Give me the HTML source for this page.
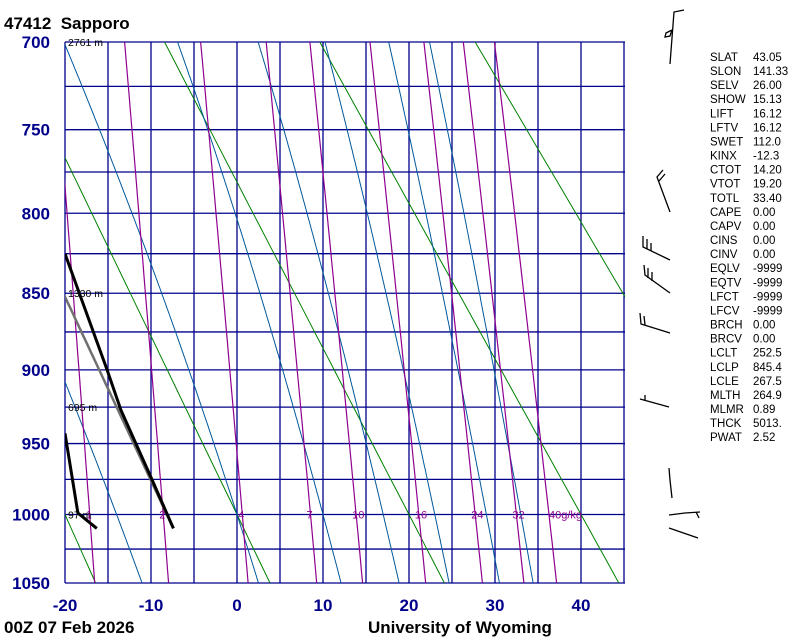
<!DOCTYPE html>
<html><head><meta charset="utf-8">
<style>
html,body{margin:0;padding:0;background:#fff;}
svg{display:block;font-family:"Liberation Sans",sans-serif;}
.lbl{font-size:17px;font-weight:bold;fill:#00008b;}
.blk{font-size:17px;font-weight:bold;fill:#000;}
.st{font-size:11.5px;fill:#000;}
.hg{font-size:10.5px;fill:#000;}
.mr{font-size:11px;fill:#900090;}
</style></head>
<body>
<svg id="chart" width="800" height="640" viewBox="0 0 800 640">
<defs><clipPath id="plotclip"><rect x="65" y="42" width="560" height="541"/></clipPath></defs>
<text class="blk" x="4" y="29">47412&#160;&#160;Sapporo</text>
<g id="grid"></g>
<g id="lines" clip-path="url(#plotclip)"></g>
<g id="axes"></g>
<g id="barbs" stroke="#000" stroke-width="1.3" fill="none">
<polyline points="670,64 674,12 684,10"/>
<polyline points="672,30 666,33 665,37 670,36 672,30"/>
<polyline points="670,212 657,177 663,170"/>
<line x1="659" y1="181" x2="665" y2="174"/>
<polyline points="670,260 643,247 643,236"/>
<line x1="647" y1="249" x2="647" y2="239"/>
<line x1="651" y1="251" x2="651" y2="243"/>
<polyline points="670,293 645,275 644,265"/>
<line x1="648" y1="278" x2="648" y2="268"/>
<line x1="652" y1="281" x2="652" y2="272"/>
<polyline points="670,333 641,324 640,313"/>
<line x1="645" y1="325" x2="644" y2="316"/>
<polyline points="669,407 640,399"/>
<line x1="645" y1="400" x2="645" y2="395"/>
<polyline points="669,468 670,480 672,498"/>
<polyline points="669,515 685,513 700,512"/>
<line x1="696" y1="512" x2="699" y2="518"/>
<polyline points="669,528 698,538"/>
</g>
<g id="stats"></g>
<text class="blk" x="4" y="633">00Z 07 Feb 2026</text>
<text class="blk" x="368" y="633">University of Wyoming</text>
</svg>
<script>
const pressureTicks=[700,750,800,850,900,950,1000,1050];
const tempTicks=[-20,-10,0,10,20,30,40];
const dryThetaC=[-20,0,20,40,60,80];
const moistThetaW=[-14,0,10,17,23,29,33];
const mixRatios=[1,2,4,7,10,16,24,32,40];
const tempP=[825,900,927,975,1010];
const tempT=[-20,-15.1,-13.5,-9.9,-7.4];
const dewP=[943,999,1010];
const dewT=[-20,-18.5,-16.3];
const parcelP=[1010,845];
const parcelT=[-7.4,-20.6];
const heightP=[700,850,925,1000];
const heightLbl=["2761 m","1330 m","695 m","97 m"];
const statNames=["SLAT","SLON","SELV","SHOW","LIFT","LFTV","SWET","KINX","CTOT","VTOT","TOTL","CAPE","CAPV","CINS","CINV","EQLV","EQTV","LFCT","LFCV","BRCH","BRCV","LCLT","LCLP","LCLE","MLTH","MLMR","THCK","PWAT"];
const statVals=["43.05","141.33","26.00","15.13","16.12","16.12","112.0","-12.3","14.20","19.20","33.40","0.00","0.00","0.00","0.00","-9999","-9999","-9999","-9999","0.00","0.00","252.5","845.4","267.5","264.9","0.89","5013.","2.52"];

const NS="http://www.w3.org/2000/svg";
const K=0.286;
const X0=65,Y0=42,H=541,DX=8.6;
const pk0=Math.pow(700,K),pk1=Math.pow(1050,K);
function y(p){return Y0+(Math.pow(p,K)-pk0)/(pk1-pk0)*H;}
function x(T){return X0+(T+20)*DX;}
function mk(tag,attrs,parent){const e=document.createElementNS(NS,tag);for(const k in attrs)e.setAttribute(k,attrs[k]);parent.appendChild(e);return e;}
const grid=document.getElementById('grid'),lines=document.getElementById('lines'),axes=document.getElementById('axes');
for(let p=700;p<=1050;p+=25){const l=mk('line',{x1:65,x2:625,y1:y(p),y2:y(p),stroke:'#00008b','stroke-width':1.3},grid);

}
for(let T=-20;T<=45;T+=5){const l=mk('line',{x1:x(T),x2:x(T),y1:42,y2:583,stroke:'#00008b','stroke-width':1.3},grid);

}
function poly(pts,attrs,name){const a=Object.assign({points:pts.map(q=>q[0].toFixed(1)+','+q[1].toFixed(1)).join(' '),fill:'none'},attrs);const e=mk('polyline',a,lines);

return e;}
dryThetaC.forEach(th=>{const pts=[];for(let p=700;p<=1050;p+=10){const T=(th+273.15)*Math.pow(p/1000,K)-273.15;pts.push([x(T),y(p)]);}
poly(pts,{stroke:'#008000','stroke-width':1},'dry-adiabat-'+th);});
function es(T){return 6.112*Math.exp(17.67*T/(T+243.5));}
function dTdp(p,T){const Tk=T+273.15;const e=es(T);const r=0.622*e/(p-e);const Rd=287,cp=1005,Lv=2.5e6;
return (Rd*Tk+Lv*r)/(p*(cp+Lv*Lv*r*0.622/(Rd*Tk*Tk)));}
moistThetaW.forEach(tw=>{const up=[],dn=[];let T=tw;for(let p=1000;p>=700;p-=1){up.push([x(T),y(p)]);T-=dTdp(p,T);}
T=tw;for(let p=1000;p<=1050;p+=1){dn.push([x(T),y(p)]);T+=dTdp(p,T);}
poly(up.reverse().concat(dn),{stroke:'#00589c','stroke-width':1},'moist-adiabat-'+tw);});
function tw_(w,p){const e=w*p/(622+w);const a=Math.log(e/6.112);return 243.5*a/(17.67-a);}
mixRatios.forEach((w,i)=>{const pts=[];for(let p=700;p<=1050;p+=10)pts.push([x(tw_(w,p)),y(p)]);
poly(pts,{stroke:'#900090','stroke-width':1.2},'mixing-ratio-'+w);
const t=mk('text',{class:'mr',x:x(tw_(w,1000))+(i==mixRatios.length-1?0:-4),y:y(1000)+4},axes);
t.textContent=(i==mixRatios.length-1)?w+'g/kg':String(w);

});
poly((()=>{const th=(parcelT[0]+273.15)/Math.pow(parcelP[0]/1000,K);const a=[];for(let p=parcelP[0];p>=parcelP[1];p-=2)a.push([x(th*Math.pow(p/1000,K)-273.15),y(p)]);return a;})(),{stroke:'#707070','stroke-width':2.5},'parcel-path');
poly(tempP.map((p,i)=>[x(tempT[i]),y(p)]),{stroke:'#000','stroke-width':3},'temperature-profile');
poly(dewP.map((p,i)=>[x(dewT[i]),y(p)]),{stroke:'#000','stroke-width':3},'dewpoint-profile');
pressureTicks.forEach(p=>{const t=mk('text',{class:'lbl',x:50,y:y(p)+6,'text-anchor':'end'},axes);t.textContent=p;

});
tempTicks.forEach(T=>{const t=mk('text',{class:'lbl',x:x(T),y:611,'text-anchor':'middle'},axes);t.textContent=T;

});
heightP.forEach((p,i)=>{const t=mk('text',{class:'hg',x:68,y:y(p)+4},axes);t.textContent=heightLbl[i];

});
const st=document.getElementById('stats');
statNames.forEach((n,i)=>{const yy=61+i*14.08;
const a=mk('text',{class:'st',x:710,y:yy},st);a.textContent=n;


const b=mk('text',{class:'st',x:753,y:yy},st);b.textContent=statVals[i];

});
</script>
</body></html>
